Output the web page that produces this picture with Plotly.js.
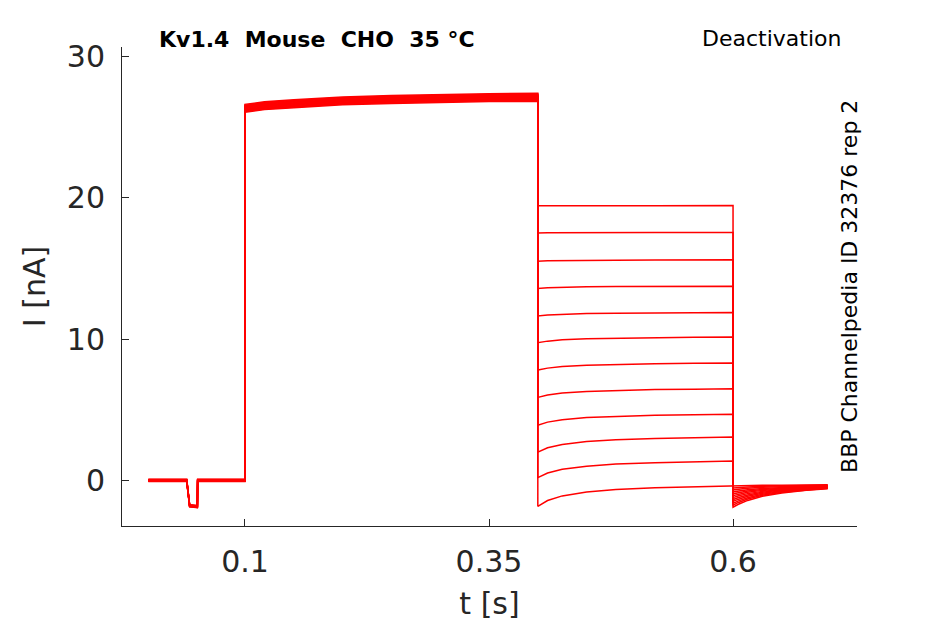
<!DOCTYPE html>
<html>
<head>
<meta charset="utf-8">
<script src="https://cdn.plot.ly/plotly-3.0.1.min.js"></script>
<style>html,body{margin:0;padding:0;background:#fff;}#chart{width:945px;height:624px;}</style>
</head>
<body>
<div id="chart"></div>
<script>
// ---- Data ----
// Time samples for each protocol phase [s]
const tHold   = [0.001, 0.0403, 0.0433, 0.0512, 0.0515, 0.1];
const tAct    = [0.1, 0.12, 0.15, 0.2, 0.25, 0.3, 0.35, 0.4];
const tDeact  = [0.4, 0.41, 0.425, 0.45, 0.48, 0.52, 0.56, 0.6];
const tTail   = [0.6, 0.605, 0.615, 0.63, 0.65, 0.675, 0.697];

// Current [nA] for the 12 sweeps, per phase
const iHold = [
  [0.08, 0.08, -1.72, -1.78, 0.08, 0.08],
  [0.06, 0.06, -1.74, -1.80, 0.06, 0.06],
  [0.05, 0.05, -1.75, -1.82, 0.05, 0.05],
  [0.03, 0.03, -1.77, -1.84, 0.03, 0.03],
  [0.02, 0.02, -1.78, -1.85, 0.02, 0.02],
  [0.00, 0.00, -1.80, -1.86, 0.00, 0.00],
  [-0.01, -0.01, -1.81, -1.87, -0.01, -0.01],
  [-0.03, -0.03, -1.82, -1.88, -0.03, -0.03],
  [-0.04, -0.04, -1.84, -1.90, -0.04, -0.04],
  [-0.05, -0.05, -1.85, -1.91, -0.05, -0.05],
  [-0.07, -0.07, -1.86, -1.92, -0.07, -0.07],
  [-0.08, -0.08, -1.88, -1.94, -0.08, -0.08]
];
const iAct = [
  [26.60, 26.78, 26.92, 27.12, 27.22, 27.30, 27.35, 27.38],
  [26.55, 26.73, 26.87, 27.07, 27.17, 27.25, 27.30, 27.33],
  [26.50, 26.68, 26.82, 27.02, 27.12, 27.20, 27.25, 27.28],
  [26.45, 26.63, 26.77, 26.97, 27.07, 27.15, 27.20, 27.23],
  [26.40, 26.58, 26.72, 26.92, 27.02, 27.10, 27.15, 27.18],
  [26.35, 26.53, 26.67, 26.87, 26.97, 27.05, 27.10, 27.13],
  [26.30, 26.48, 26.62, 26.82, 26.92, 27.00, 27.05, 27.08],
  [26.25, 26.43, 26.57, 26.77, 26.87, 26.95, 27.00, 27.03],
  [26.20, 26.38, 26.52, 26.72, 26.82, 26.90, 26.95, 26.98],
  [26.15, 26.33, 26.47, 26.67, 26.77, 26.85, 26.90, 26.93],
  [26.10, 26.28, 26.42, 26.62, 26.72, 26.80, 26.85, 26.88],
  [26.05, 26.23, 26.37, 26.57, 26.67, 26.75, 26.80, 26.83]
];
const iDeact = [
  [19.42, 19.42, 19.43, 19.43, 19.43, 19.43, 19.44, 19.44],
  [17.50, 17.51, 17.52, 17.53, 17.53, 17.54, 17.54, 17.54],
  [15.50, 15.53, 15.55, 15.57, 15.58, 15.59, 15.60, 15.60],
  [13.57, 13.62, 13.66, 13.69, 13.71, 13.72, 13.73, 13.74],
  [11.63, 11.70, 11.75, 11.80, 11.82, 11.85, 11.86, 11.87],
  [9.74, 9.85, 9.94, 10.02, 10.06, 10.10, 10.12, 10.14],
  [7.80, 7.94, 8.05, 8.15, 8.21, 8.25, 8.28, 8.30],
  [5.87, 6.04, 6.18, 6.29, 6.36, 6.42, 6.45, 6.48],
  [3.90, 4.12, 4.29, 4.44, 4.53, 4.60, 4.64, 4.68],
  [2.00, 2.30, 2.54, 2.74, 2.87, 2.96, 3.02, 3.07],
  [0.19, 0.52, 0.78, 1.00, 1.15, 1.25, 1.32, 1.37],
  [-1.84, -1.43, -1.10, -0.83, -0.65, -0.52, -0.44, -0.37]
];
const iTail = [
  [-1.90, -1.71, -1.42, -1.13, -0.89, -0.70, -0.59],
  [-1.76, -1.58, -1.32, -1.06, -0.84, -0.67, -0.56],
  [-1.63, -1.47, -1.23, -0.99, -0.79, -0.63, -0.54],
  [-1.49, -1.35, -1.13, -0.92, -0.74, -0.60, -0.51],
  [-1.36, -1.23, -1.04, -0.85, -0.69, -0.57, -0.49],
  [-1.22, -1.11, -0.94, -0.78, -0.64, -0.53, -0.47],
  [-1.08, -0.99, -0.85, -0.71, -0.59, -0.50, -0.44],
  [-0.95, -0.87, -0.76, -0.64, -0.54, -0.46, -0.42],
  [-0.81, -0.75, -0.66, -0.57, -0.49, -0.43, -0.39],
  [-0.67, -0.63, -0.56, -0.49, -0.44, -0.39, -0.37],
  [-0.54, -0.51, -0.47, -0.42, -0.39, -0.36, -0.34],
  [-0.40, -0.39, -0.37, -0.35, -0.34, -0.33, -0.32]
];

const xTickVals = [0.1, 0.35, 0.6];
const xTickText = ['0.1', '0.35', '0.6'];
const yTickVals = [0, 10, 20, 30];
const yTickText = ['0', '10', '20', '30'];

const titleText = '<b>Kv1.4  Mouse  CHO  35 °C</b>';
const protocolText = 'Deactivation';
const sourceText = 'BBP Channelpedia ID 32376 rep 2';

// ---- Build traces ----
const tAll = [].concat(tHold, tAct, tDeact, tTail);
const traces = iHold.map((h, k) => ({
  type: 'scatter',
  mode: 'lines',
  x: tAll,
  y: [].concat(h, iAct[k], iDeact[k], iTail[k]),
  line: {color: '#ff0000', width: 1.5},
  hoverinfo: 'skip',
  showlegend: false
}));

const font = 'DejaVu Sans, Verdana, sans-serif';
const axCol = '#262626';

const layout = {
  width: 945, height: 624,
  paper_bgcolor: '#ffffff', plot_bgcolor: '#ffffff',
  margin: {l: 122, r: 88, t: 47, b: 98},
  font: {family: font, color: axCol},
  showlegend: false,
  xaxis: {
    range: [-0.026, 0.727],
    tickvals: xTickVals, ticktext: xTickText,
    ticks: 'inside', ticklen: 7, tickwidth: 1, tickcolor: axCol,
    showline: true, linecolor: axCol, linewidth: 1,
    showgrid: false, zeroline: false,
    tickfont: {size: 30, color: axCol, family: font},
    ticklabelstandoff: 9,
    title: {text: 't [s]', font: {size: 30, color: axCol, family: font}, standoff: 14}
  },
  yaxis: {
    range: [-3.23, 30.66],
    tickvals: yTickVals, ticktext: yTickText,
    ticks: 'inside', ticklen: 7, tickwidth: 1, tickcolor: axCol,
    showline: true, linecolor: axCol, linewidth: 1,
    showgrid: false, zeroline: false,
    tickfont: {size: 30, color: axCol, family: font},
    ticklabelstandoff: 10,
    title: {text: 'I [nA]', font: {size: 30, color: axCol, family: font}, standoff: 12}
  },
  annotations: [
    {text: titleText, xref: 'paper', yref: 'paper', x: 0.047, y: 1.016,
     xanchor: 'left', yanchor: 'middle', showarrow: false,
     font: {size: 22, color: '#000000', family: font}},
    {text: protocolText, xref: 'paper', yref: 'paper', x: 0.981, y: 1.018,
     xanchor: 'right', yanchor: 'middle', showarrow: false,
     font: {size: 22, color: '#000000', family: font}},
    {text: sourceText, xref: 'paper', yref: 'paper', x: 0.989, y: 0.501,
     xanchor: 'center', yanchor: 'middle', textangle: -90, showarrow: false,
     font: {size: 22, color: '#000000', family: font}}
  ]
};

Plotly.newPlot('chart', traces, layout, {displayModeBar: false, staticPlot: true});
</script>
</body>
</html>
